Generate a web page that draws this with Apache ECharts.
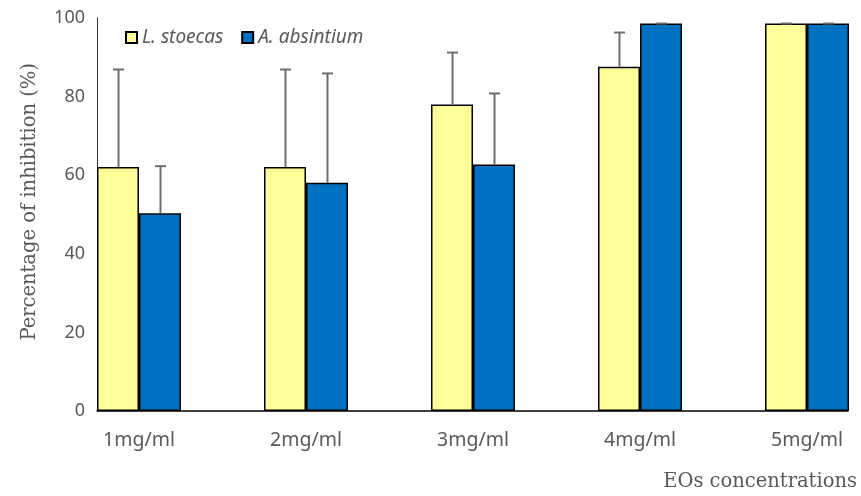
<!DOCTYPE html>
<html>
<head>
<meta charset="utf-8">
<script src="https://cdn.jsdelivr.net/npm/echarts@6/dist/echarts.min.js"></script>
<style>
  html, body { margin: 0; padding: 0; background: #fff; }
  #chart { width: 861px; height: 496px; }
</style>
</head>
<body>
<div id="chart"></div>
<script>
// ---- data ----
const categories = ['1mg/ml', '2mg/ml', '3mg/ml', '4mg/ml', '5mg/ml'];
const seriesNames = ['L. stoecas', 'A. absintium'];
const stoecas = [62.1, 62.1, 78.0, 87.6, 98.6];
const absintium = [50.3, 58.1, 62.7, 98.6, 98.6];
const stoecasErr = [24.8, 24.8, 13.2, 8.7, 0];
const absintiumErr = [12.0, 27.8, 18.1, 0, 0];
const yTicks = [0, 20, 40, 60, 80, 100];
const xTitle = 'EOs concentrations';
const yTitle = 'Percentage of inhibition (%)';

// ---- chart ----
const pos = categories.map((c, i) => i + 1);
const textColor = '#595959';
const sansFont = '"Noto Sans", sans-serif';
const serifFont = '"DejaVu Serif", serif';
const BAR_W = 42;

function errData(vals, errs, side) {
  return vals.map((v, i) => [pos[i], v, errs[i], side]);
}

const chart = echarts.init(document.getElementById('chart'), null, { renderer: 'canvas' });

const option = {
  animation: false,
  backgroundColor: '#ffffff',
  grid: { left: 97, right: 13, top: 18, bottom: 85, containLabel: false },
  legend: {
    data: seriesNames,
    left: 120,
    top: 23,
    icon: 'rect',
    itemWidth: 11,
    itemHeight: 11,
    itemGap: 18,
    textStyle: { color: textColor, fontSize: 19, fontStyle: 'italic', fontFamily: sansFont }
  },
  xAxis: {
    type: 'value',
    min: 0.7485,
    max: 5.2455,
    axisLine: { show: true, onZero: false, lineStyle: { color: '#000', width: 1.5 } },
    axisTick: { show: false },
    splitLine: { show: false },
    axisLabel: {
      customValues: pos,
      formatter: v => categories[Math.round(v) - 1] || '',
      color: textColor,
      fontSize: 19.5,
      fontFamily: sansFont,
      margin: 19
    }
  },
  yAxis: {
    type: 'value',
    min: yTicks[0],
    max: yTicks[yTicks.length - 1],
    interval: yTicks[1] - yTicks[0],
    axisLine: { show: true, lineStyle: { color: '#333', width: 1 } },
    axisTick: { show: false },
    splitLine: { show: false },
    axisLabel: { color: textColor, fontSize: 18, fontFamily: sansFont, margin: 12 }
  },
  graphic: [
    {
      type: 'text',
      left: 20,
      top: 63,
      rotation: Math.PI / 2,
      style: { text: yTitle, fill: textColor, font: '19.5px ' + serifFont }
    },
    {
      type: 'text',
      right: 4,
      top: 472,
      style: { text: xTitle, fill: textColor, font: '19.5px ' + serifFont }
    }
  ],
  series: [
    {
      name: seriesNames[0],
      type: 'bar',
      barWidth: BAR_W,
      barGap: '0%',
      data: stoecas.map((v, i) => [pos[i], v]),
      itemStyle: { color: '#FFFF99', borderColor: '#000', borderWidth: 1.5 },
      z: 2
    },
    {
      name: seriesNames[1],
      type: 'bar',
      barWidth: BAR_W,
      barGap: '0%',
      data: absintium.map((v, i) => [pos[i], v]),
      itemStyle: { color: '#0070C0', borderColor: '#000', borderWidth: 1.5 },
      z: 2
    },
    {
      name: 'err',
      type: 'custom',
      z: 5,
      data: errData(stoecas, stoecasErr, 0).concat(errData(absintium, absintiumErr, 1)),
      encode: { x: 0, y: 1 },
      renderItem: function (params, api) {
        const x = api.value(0), v = api.value(1), e = api.value(2), side = api.value(3);
        const b = api.coord([x, v]);
        const t = api.coord([x, v + e]);
        const cx = Math.round(b[0] + (side ? BAR_W / 2 : -BAR_W / 2)) + 0.5;
        const st = { stroke: '#6e6e6e', lineWidth: 2 };
        const children = [];
        if (e > 0) {
          children.push({ type: 'line', shape: { x1: cx, y1: b[1], x2: cx, y2: t[1] }, style: st });
        }
        children.push({ type: 'line', shape: { x1: cx - 5.5, y1: t[1], x2: cx + 5.5, y2: t[1] }, style: st });
        return { type: 'group', children: children };
      }
    }
  ]
};
chart.setOption(option);
</script>
</body>
</html>
